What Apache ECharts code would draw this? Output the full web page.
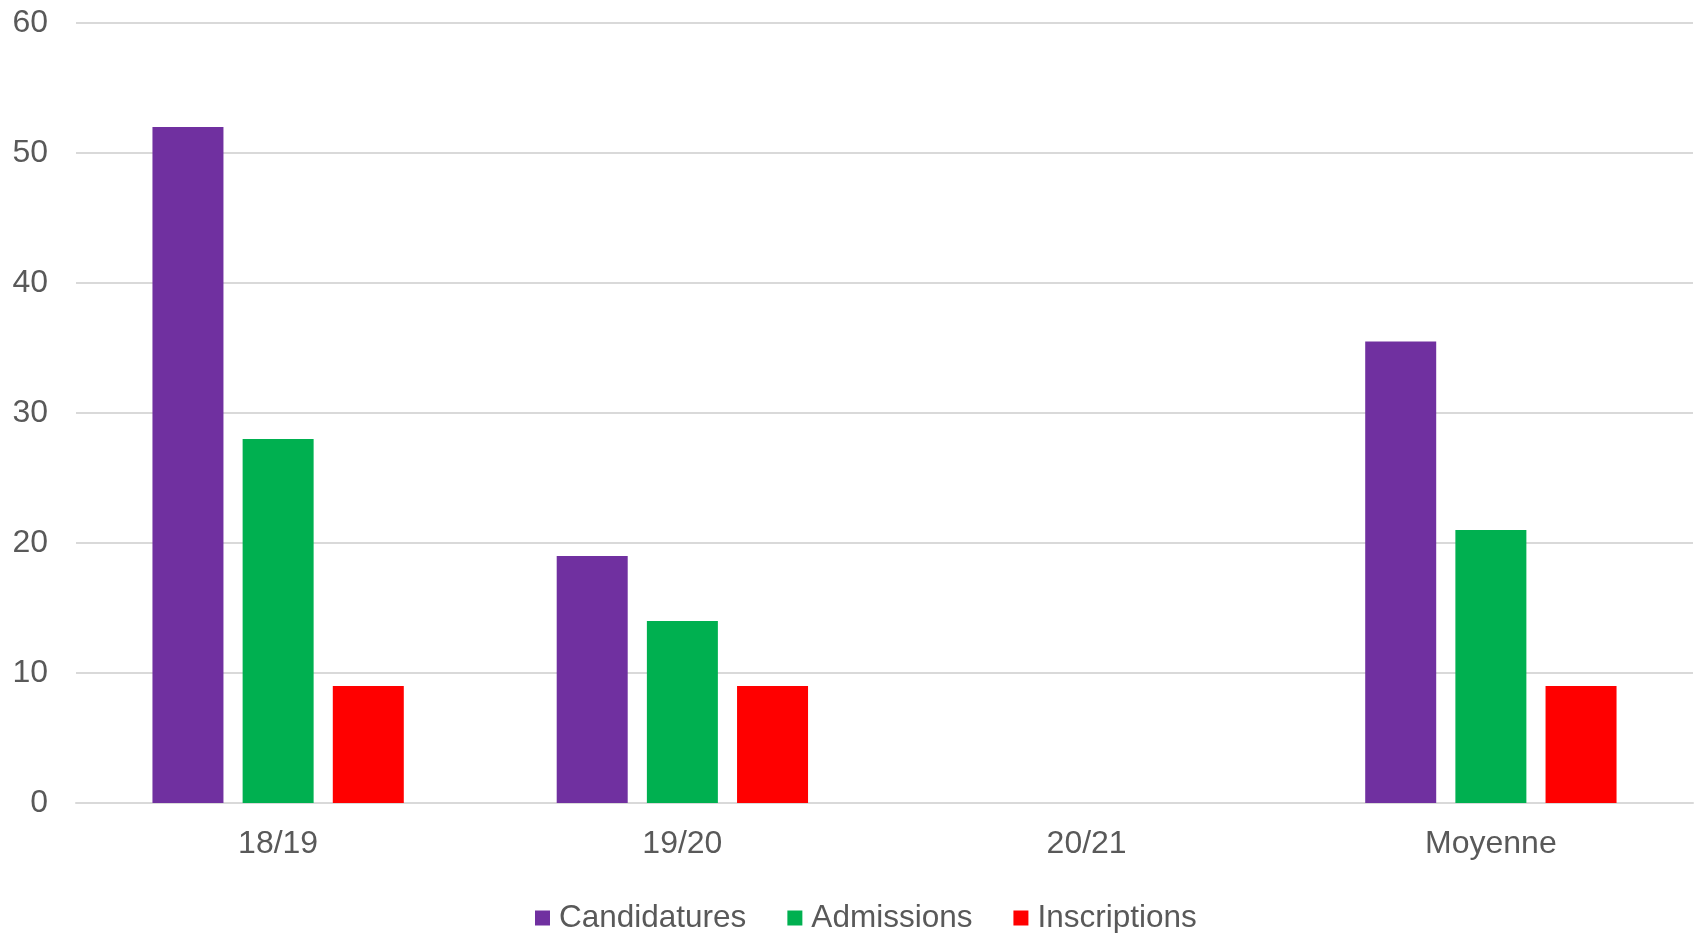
<!DOCTYPE html>
<html>
<head>
<meta charset="utf-8">
<script src="https://cdn.jsdelivr.net/npm/echarts@6/dist/echarts.min.js"></script>
<style>
  html, body { margin: 0; padding: 0; background: #fff; }
  #chart { width: 1698px; height: 933px; }
</style>
</head>
<body>
<div id="chart"></div>
<script>
// données
const categories = ['18/19', '19/20', '20/21', 'Moyenne']
const candidatures = [52, 19, null, 35.5]
const admissions = [28, 14, null, 21]
const inscriptions = [9, 9, null, 9]
const yTicks = [0, 10, 20, 30, 40, 50, 60]

const labelColor = '#595959'
const gridColor = '#d9d9d9'
const font = 'Liberation Sans, Arial, sans-serif'

let myChart = echarts.init(document.getElementById('chart'))

let option = {
  animation: false,
  grid: {
    left: 76,
    right: 5,
    top: 23,
    bottom: 130
  },
  legend: {
    data: ['Candidatures', 'Admissions', 'Inscriptions'],
    left: 530,
    top: 897,
    itemWidth: 15,
    itemHeight: 15,
    itemGap: 41,
    icon: 'rect',
    textStyle: {
      color: labelColor,
      fontSize: 31.5,
      fontFamily: font,
      padding: [0, 0, 0, 4]
    }
  },
  xAxis: {
    type: 'category',
    data: categories,
    axisLine: { show: true, lineStyle: { color: gridColor, width: 2 } },
    axisTick: { show: false },
    axisLabel: { color: labelColor, fontSize: 32, fontFamily: font, margin: 25 }
  },
  yAxis: {
    type: 'value',
    min: yTicks[0],
    max: yTicks[yTicks.length - 1],
    interval: 10,
    axisLine: { show: false },
    axisTick: { show: false },
    axisLabel: { color: labelColor, fontSize: 32, fontFamily: font, margin: 28 },
    splitLine: { show: true, lineStyle: { color: gridColor, width: 2 } }
  },
  series: [
    {
      name: 'Candidatures',
      type: 'bar',
      data: candidatures,
      barWidth: 71,
      barGap: '27%',
      itemStyle: { color: '#7030A0' }
    },
    {
      name: 'Admissions',
      type: 'bar',
      data: admissions,
      barWidth: 71,
      barGap: '27%',
      itemStyle: { color: '#00B050' }
    },
    {
      name: 'Inscriptions',
      type: 'bar',
      data: inscriptions,
      barWidth: 71,
      barGap: '27%',
      itemStyle: { color: '#FF0000' }
    }
  ]
}
myChart.setOption(option, true)
</script>
</body>
</html>
